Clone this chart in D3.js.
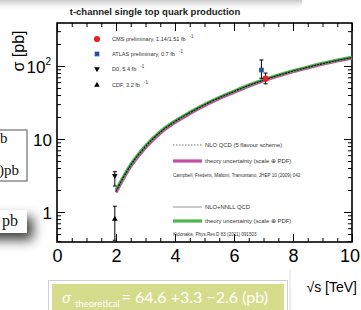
<!DOCTYPE html>
<html>
<head>
<meta charset="utf-8">
<script src="https://cdn.jsdelivr.net/npm/d3@7"></script>
<style>
  html, body { margin: 0; padding: 0; background: #fff; }
  svg { display: block; }
</style>
</head>
<body>
<svg id="chart" width="361" height="310"></svg>
<script>
// ---------------- data ----------------
const chartTitle = "t-channel single top quark production";
const energy   = [2, 2.5, 3, 3.5, 4, 4.5, 5, 5.5, 6, 6.5, 7, 7.5, 8, 8.5, 9, 9.5, 10];
const nloQCD   = [1.85, 4.2, 7.6, 12.0, 16.8, 22.2, 28.6, 35.8, 43.6, 52.8, 62.6, 72.8, 83.4, 94.2, 105.5, 117, 128];
const nnllQCD  = [2.0, 4.5, 8.1, 12.7, 17.7, 23.3, 29.9, 37.3, 45.4, 54.9, 65.0, 75.4, 86.2, 97.2, 108.8, 120.5, 131.5];

const expNames = ["CMS preliminary, 1.14/1.51 fb", "ATLAS preliminary, 0.7 fb", "D0, 5.4 fb", "CDF, 3.2 fb"];
const expKeys  = ["CMS", "ATLAS", "D0", "CDF"];
const expX     = [7.07, 6.93, 1.96, 1.96];
const expY     = [67, 88, 3.14, 0.80];
const expUp    = [13, 33, 0.42, 0.40];
const expDown  = [10, 20, 0.87, 0.39];

const xTicks      = [0, 2, 4, 6, 8, 10];
const xMinorTicks = [0.5,1,1.5,2.5,3,3.5,4.5,5,5.5,6.5,7,7.5,8.5,9,9.5];
const yTicks      = [1, 10, 100];
const yMinorTicks = [0.4,0.5,0.6,0.7,0.8,0.9,2,3,4,5,6,7,8,9,20,30,40,50,60,70,80,90,200,300];

const theoryLegend = [
  "NLO QCD (5 flavour scheme)",
  "theory uncertainty (scale   \u2295 PDF)",
  "Campbell, Frederix, Maltoni, Tramontano, JHEP 10 (2009) 042",
  "NLO+NNLL QCD",
  "theory uncertainty (scale   \u2295 PDF)",
  "Kidonakis, Phys.Rev.D 83 (2011) 091503"
];
const formulaValue = "= 64.6 +3.3 \u22122.6 (pb)";

// ---------------- layout ----------------
const svg = d3.select("#chart");
const L = 57, R = 352, T = 23, B = 242;
const x = d3.scaleLinear().domain([0, 10]).range([L, R]);
const y = d3.scaleLog().domain([0.388, 388]).range([B, T]);
const axisFont = "'Liberation Sans', Arial, Helvetica, sans-serif";

const defs = svg.append("defs");
const topGrad = defs.append("linearGradient").attr("id", "topShadow")
  .attr("x1", 0).attr("y1", 0).attr("x2", 0).attr("y2", 1);
topGrad.append("stop").attr("offset", "0%").attr("stop-color", "#7a7a7a");
topGrad.append("stop").attr("offset", "100%").attr("stop-color", "#ffffff").attr("stop-opacity", 0);
const shadowF = defs.append("filter").attr("id", "boxShadow")
  .attr("x", "-50%").attr("y", "-50%").attr("width", "250%").attr("height", "250%");
shadowF.append("feDropShadow").attr("dx", 6).attr("dy", 7).attr("stdDeviation", 6)
  .attr("flood-color", "#000").attr("flood-opacity", 0.75);

// top slide shadow
svg.append("rect").attr("x", -10).attr("y", -6).attr("width", 312).attr("height", 17)
  .attr("rx", 8).attr("fill", "url(#topShadow)");

// left clipped slide boxes
svg.append("rect").attr("x", -20).attr("y", 130).attr("width", 47).attr("height", 51)
  .attr("fill", "#fff").attr("stroke", "#555").attr("stroke-width", 1);
svg.append("text").attr("x", 0).attr("y", 143).attr("font-family", "'Liberation Serif', serif")
  .attr("font-size", 15).attr("fill", "#111").text("b");
svg.append("text").attr("x", -1).attr("y", 175).attr("font-family", "'Liberation Serif', serif")
  .attr("font-size", 15).attr("fill", "#111").text(")pb");
svg.append("rect").attr("x", -20).attr("y", 210).attr("width", 47).attr("height", 23)
  .attr("fill", "#fff").attr("filter", "url(#boxShadow)");
svg.append("text").attr("x", 2).attr("y", 226).attr("font-family", "'Liberation Serif', serif")
  .attr("font-size", 16).attr("fill", "#111").text("pb");

// title
svg.append("text").attr("x", 155).attr("y", 15).attr("text-anchor", "middle")
  .attr("font-family", axisFont).attr("font-weight", "bold").attr("font-size", 9.5)
  .attr("fill", "#222").text(chartTitle);

// ---------------- axes ----------------
function styleAxis(g) {
  g.select(".domain").remove();
  g.selectAll("line").attr("stroke", "#000").attr("stroke-width", 1);
}
// bottom
const gxB = svg.append("g").attr("transform", `translate(0,${B})`)
  .call(d3.axisBottom(x).tickValues(xTicks).tickSize(-8).tickPadding(7).tickFormat(d3.format("d")));
styleAxis(gxB);
gxB.selectAll("text").attr("font-family", axisFont).attr("font-size", 18).attr("fill", "#000")
  .attr("dx", d => d === 10 ? -2.5 : 0);
const gxBm = svg.append("g").attr("transform", `translate(0,${B})`)
  .call(d3.axisBottom(x).tickValues(xMinorTicks).tickSize(-4).tickFormat(""));
styleAxis(gxBm);
// top
const gxT = svg.append("g").attr("transform", `translate(0,${T})`)
  .call(d3.axisTop(x).tickValues(xTicks).tickSize(-8).tickFormat(""));
styleAxis(gxT);
const gxTm = svg.append("g").attr("transform", `translate(0,${T})`)
  .call(d3.axisTop(x).tickValues(xMinorTicks).tickSize(-4).tickFormat(""));
styleAxis(gxTm);
// left
const gyL = svg.append("g").attr("transform", `translate(${L},0)`)
  .call(d3.axisLeft(y).tickValues(yTicks).tickSize(-8).tickPadding(5).tickFormat(""));
styleAxis(gyL);
gyL.selectAll(".tick text").each(function(d) {
  const t = d3.select(this).attr("font-family", axisFont).attr("font-size", 17)
    .attr("fill", "#000").attr("dy", "0.36em");
  if (d === 100) {
    t.attr("x", -6);
    t.append("tspan").text("10");
    t.append("tspan").attr("font-size", 10).attr("dy", "-0.75em").text("2");
  } else {
    t.text(String(d));
  }
});
const gyLm = svg.append("g").attr("transform", `translate(${L},0)`)
  .call(d3.axisLeft(y).tickValues(yMinorTicks).tickSize(-4).tickFormat(""));
styleAxis(gyLm);
// right
const gyR = svg.append("g").attr("transform", `translate(${R},0)`)
  .call(d3.axisRight(y).tickValues(yTicks).tickSize(-8).tickFormat(""));
styleAxis(gyR);
const gyRm = svg.append("g").attr("transform", `translate(${R},0)`)
  .call(d3.axisRight(y).tickValues(yMinorTicks).tickSize(-4).tickFormat(""));
styleAxis(gyRm);

// frame
svg.append("rect").attr("x", L).attr("y", T).attr("width", R - L).attr("height", B - T)
  .attr("fill", "none").attr("stroke", "#000").attr("stroke-width", 1.6);

// axis titles
svg.append("text").attr("transform", "translate(24,51) rotate(-90)").attr("text-anchor", "middle")
  .attr("font-family", axisFont).attr("font-size", 16).attr("fill", "#000").text("\u03c3 [pb]");
svg.append("text").attr("x", 357).attr("y", 292).attr("text-anchor", "end")
  .attr("font-family", axisFont).attr("font-size", 14).attr("fill", "#000").text("\u221as [TeV]");

// ---------------- theory curves ----------------
const nloLine  = d3.line().x((d, i) => x(energy[i])).y(d => y(d)).curve(d3.curveMonotoneX);
const plot = svg.append("g");
plot.append("path").datum(nloQCD).attr("d", nloLine).attr("fill", "none")
  .attr("stroke", "#c24ea6").attr("stroke-width", 3.2);
plot.append("path").datum(nnllQCD).attr("d", nloLine).attr("fill", "none")
  .attr("stroke", "#4cb84c").attr("stroke-width", 3);
plot.append("path").datum(nnllQCD).attr("d", nloLine).attr("fill", "none")
  .attr("stroke", "#555").attr("stroke-width", 0.8);
plot.append("path").datum(nloQCD.map((v, i) => (v + nnllQCD[i]) / 2)).attr("d", nloLine).attr("fill", "none")
  .attr("stroke", "#111").attr("stroke-width", 1.1).attr("stroke-dasharray", "2,1");

// ---------------- measurements ----------------
const markerColor = { CMS: "#e8202a", ATLAS: "#2a4fa3", D0: "#000", CDF: "#000" };
const pts = plot.selectAll("g.pt").data(expKeys).enter().append("g");
pts.append("line")
  .attr("x1", (d, i) => x(expX[i])).attr("x2", (d, i) => x(expX[i]))
  .attr("y1", (d, i) => y(expY[i] + expUp[i])).attr("y2", (d, i) => y(expY[i] - expDown[i]))
  .attr("stroke", "#000").attr("stroke-width", 1);
[["up", 1], ["down", -1]].forEach(([n, s]) => {
  pts.append("line")
    .attr("x1", (d, i) => x(expX[i]) - 2).attr("x2", (d, i) => x(expX[i]) + 2)
    .attr("y1", (d, i) => y(s > 0 ? expY[i] + expUp[i] : expY[i] - expDown[i]))
    .attr("y2", (d, i) => y(s > 0 ? expY[i] + expUp[i] : expY[i] - expDown[i]))
    .attr("stroke", "#000").attr("stroke-width", 1);
});
function symbolFor(k) {
  if (k === "CMS") return d3.symbol(d3.symbolCircle, 30)();
  if (k === "ATLAS") return d3.symbol(d3.symbolSquare, 22)();
  return d3.symbol(d3.symbolTriangle, 14)();
}
pts.append("path")
  .attr("d", d => symbolFor(d))
  .attr("transform", (d, i) => `translate(${x(expX[i])},${y(expY[i])})${d === "D0" ? " rotate(180)" : ""}`)
  .attr("fill", d => markerColor[d]);

// ---------------- legends ----------------
const legFont = axisFont;
const leg1Y = [39, 54, 69, 85];
const leg1 = svg.append("g");
expKeys.forEach((k, i) => {
  leg1.append("path").attr("d", symbolFor(k))
    .attr("transform", `translate(97,${leg1Y[i]})${k === "D0" ? " rotate(180)" : ""}`)
    .attr("fill", markerColor[k]);
  const t = leg1.append("text").attr("x", 112).attr("y", leg1Y[i] + 2).attr("font-family", legFont)
    .attr("font-size", 5.6).attr("fill", "#333").text(expNames[i]);
  t.append("tspan").attr("dx", 4).attr("dy", -3).attr("font-size", 4.5).text("-1");
});

const leg2 = svg.append("g");
const lx0 = 173, lx1 = 202, tx = 205;
leg2.append("line").attr("x1", lx0).attr("x2", lx1).attr("y1", 145).attr("y2", 145)
  .attr("stroke", "#666").attr("stroke-width", 0.9).attr("stroke-dasharray", "1.5,1.5");
leg2.append("line").attr("x1", lx0).attr("x2", lx1).attr("y1", 161).attr("y2", 161)
  .attr("stroke", "#c24ea6").attr("stroke-width", 3.2);
leg2.append("line").attr("x1", lx0).attr("x2", lx1).attr("y1", 207).attr("y2", 207)
  .attr("stroke", "#888").attr("stroke-width", 0.9);
leg2.append("line").attr("x1", lx0).attr("x2", lx1).attr("y1", 221).attr("y2", 221)
  .attr("stroke", "#4cb84c").attr("stroke-width", 3.2);
const leg2Y = [147, 163, 177, 209, 223, 236];
theoryLegend.forEach((s, i) => {
  const cite = (i === 2 || i === 5);
  leg2.append("text").attr("x", cite ? 173 : tx).attr("y", leg2Y[i])
    .attr("font-family", legFont).attr("font-size", cite ? 4.6 : 5.9)
    .attr("fill", "#333").text(s);
});

// ---------------- formula box ----------------
svg.append("line").attr("x1", 290).attr("x2", 290).attr("y1", 270).attr("y2", 310)
  .attr("stroke", "#ddd").attr("stroke-width", 1);
svg.append("rect").attr("x", 48.5).attr("y", 280.5).attr("width", 239).attr("height", 40)
  .attr("fill", "#fff").attr("stroke", "#d0d0d0").attr("stroke-width", 1);
svg.append("rect").attr("x", 52).attr("y", 284).attr("width", 232).attr("height", 30)
  .attr("fill", "#d5dc8b");
const ft = svg.append("text").attr("x", 62).attr("y", 303).attr("font-family", "Lato, 'Open Sans', sans-serif")
  .attr("fill", "#fff").attr("font-size", 16);
ft.append("tspan").attr("font-style", "italic").text("\u03c3");
ft.append("tspan").attr("font-size", 9.5).attr("dx", 4).attr("dy", 4).text("theoretical");
ft.append("tspan").attr("dx", 2).attr("dy", -4).text(formulaValue);
</script>
</body>
</html>
